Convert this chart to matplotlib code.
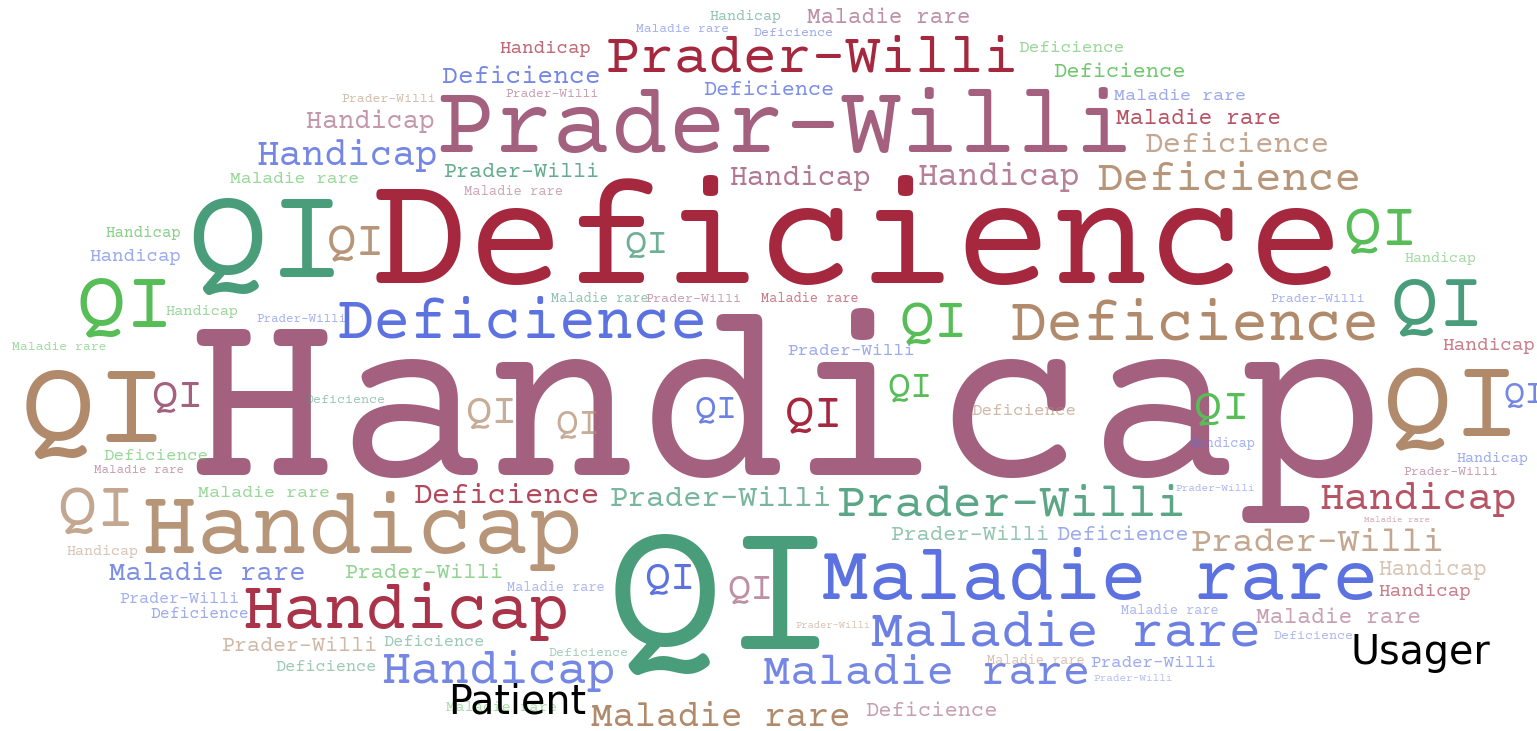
import matplotlib
matplotlib.use("Agg")
import matplotlib.pyplot as plt
from matplotlib import font_manager as fm

# Vocabulary of the cloud and the two labels laid on top.
terms = ["Handicap", "Deficience", "Prader-Willi", "Maladie rare", "QI"]
labels = ["Patient", "Usager"]

palette = {
    "red": "#A5283E",
    "mauve": "#A3607F",
    "blue": "#5C72E0",
    "teal": "#4A9D7B",
    "tan": "#B08A6B",
    "green": "#57BD57",
}

# Placed words: term index, then layout (left px, right px, baseline px), colour, alpha.
H, D, P, M, Q = range(5)
cloud = [
    (H, 710, 780, 20, "teal", .6),
    (M, 810, 968, 23, "mauve", .7),
    (M, 638, 728, 32, "blue", .55),
    (D, 755, 832, 36, "blue", .6),
    (H, 501, 590, 53, "red", .7),
    (P, 613, 1012, 72, "red", 1),
    (D, 1020, 1123, 52, "green", .6),
    (D, 1055, 1184, 77, "green", .85),
    (D, 445, 598, 83, "blue", .85),
    (P, 507, 598, 97, "mauve", .6),
    (P, 343, 435, 102, "tan", .55),
    (D, 705, 832, 95, "blue", .8),
    (P, 447, 1122, 152, "mauve", 1),
    (M, 1116, 1244, 100, "blue", .6),
    (M, 1119, 1279, 124, "red", .8),
    (H, 308, 433, 128, "mauve", .65),
    (D, 1148, 1327, 152, "tan", .75),
    (H, 259, 435, 165, "blue", .85),
    (P, 445, 597, 177, "teal", .85),
    (M, 232, 358, 183, "green", .6),
    (M, 466, 562, 195, "mauve", .55),
    (H, 732, 870, 185, "mauve", .85),
    (H, 920, 1078, 185, "mauve", .8),
    (D, 1100, 1357, 190, "tan", .9),
    (D, 385, 1330, 283, "red", 1),
    (Q, 190, 345, 277, "teal", 1),
    (Q, 328, 385, 255, "tan", .9),
    (Q, 625, 668, 253, "teal", .8),
    (H, 107, 180, 237, "green", .7),
    (H, 91, 180, 261, "blue", .6),
    (Q, 78, 173, 328, "green", 1),
    (H, 166, 237, 315, "green", .6),
    (P, 258, 345, 322, "blue", .55),
    (M, 13, 105, 350, "green", .55),
    (D, 342, 702, 338, "blue", 1),
    (M, 552, 647, 302, "teal", .6),
    (P, 647, 740, 302, "mauve", .6),
    (M, 762, 857, 302, "red", .6),
    (Q, 900, 967, 337, "green", 1),
    (D, 1015, 1374, 340, "tan", 1),
    (P, 1272, 1364, 302, "blue", .55),
    (P, 790, 913, 355, "blue", .6),
    (H, 1405, 1475, 262, "green", .55),
    (Q, 1392, 1484, 325, "teal", 1),
    (Q, 1344, 1417, 245, "green", 1),
    (H, 1444, 1534, 350, "red", .6),
    (Q, 1385, 1519, 435, "tan", 1),
    (Q, 1504, 1545, 403, "blue", .85),
    (H, 1190, 1254, 447, "blue", .55),
    (Q, 1195, 1249, 418, "green", 1),
    (H, 1457, 1527, 462, "blue", .6),
    (P, 1405, 1497, 475, "mauve", .6),
    (P, 1177, 1254, 491, "blue", .5),
    (H, 205, 1370, 475, "mauve", 1),
    (Q, 152, 203, 407, "mauve", 1),
    (Q, 23, 167, 442, "tan", 1),
    (D, 307, 385, 403, "teal", .55),
    (D, 105, 207, 460, "green", .6),
    (M, 95, 182, 473, "mauve", .6),
    (Q, 466, 517, 423, "tan", .7),
    (Q, 556, 600, 434, "tan", .7),
    (Q, 695, 737, 417, "blue", .9),
    (Q, 786, 843, 427, "red", 1),
    (Q, 888, 932, 397, "green", 1),
    (D, 973, 1075, 415, "tan", .6),
    (D, 417, 597, 503, "red", .85),
    (P, 613, 828, 506, "teal", .75),
    (P, 842, 1180, 516, "teal", .9),
    (H, 1322, 1514, 509, "red", .8),
    (M, 1365, 1429, 522, "mauve", .5),
    (H, 148, 577, 553, "tan", .9),
    (Q, 59, 135, 526, "tan", .75),
    (M, 200, 328, 497, "green", .6),
    (H, 67, 137, 555, "tan", .5),
    (M, 112, 303, 580, "blue", .8),
    (P, 121, 238, 603, "blue", .55),
    (D, 152, 247, 618, "blue", .6),
    (H, 247, 565, 628, "red", .95),
    (P, 347, 500, 578, "green", .65),
    (M, 508, 603, 591, "blue", .5),
    (P, 223, 375, 651, "tan", .6),
    (D, 277, 375, 671, "teal", .55),
    (D, 385, 483, 646, "teal", .55),
    (D, 550, 627, 656, "teal", .5),
    (H, 385, 613, 683, "blue", .85),
    (M, 447, 555, 711, "green", .5),
    (Q, 610, 835, 649, "teal", 1),
    (Q, 645, 695, 589, "blue", 1),
    (Q, 728, 773, 599, "mauve", .7),
    (P, 797, 870, 628, "tan", .5),
    (M, 830, 1370, 599, "blue", 1),
    (P, 893, 1047, 540, "teal", .6),
    (D, 1058, 1187, 540, "blue", .6),
    (P, 1194, 1440, 551, "tan", .75),
    (H, 1380, 1485, 575, "tan", .5),
    (H, 1380, 1470, 596, "red", .6),
    (M, 877, 1255, 646, "blue", .9),
    (M, 1122, 1217, 614, "blue", .5),
    (M, 1259, 1419, 623, "mauve", .6),
    (D, 1275, 1352, 639, "blue", .5),
    (M, 988, 1083, 664, "tan", .5),
    (P, 1092, 1214, 667, "blue", .6),
    (P, 1095, 1172, 681, "blue", .45),
    (M, 768, 1085, 684, "blue", .85),
    (M, 595, 847, 726, "tan", 1),
    (D, 867, 995, 716, "mauve", .6),
]

label_pos = [(448, 714), (1351, 664)]


def pick_font(cands):
    for name in cands:
        try:
            fm.findfont(fm.FontProperties(family=name), fallback_to_default=False)
            return name
        except ValueError:
            continue
    return "DejaVu Serif"


cloud_font = pick_font(["Special Elite", "Courier Prime", "Cutive Mono",
                        "Nimbus Mono PS", "FreeMono", "Courier"])

W, Hgt, DPI = 1537, 731, 100
fig = plt.figure(figsize=(W / DPI, Hgt / DPI), dpi=DPI)
ax = fig.add_axes([0, 0, 1, 1])
ax.set_xlim(0, W)
ax.set_ylim(Hgt, 0)
ax.axis("off")
renderer = fig.canvas.get_renderer()

for idx, x0, x1, base, col, alpha in cloud:
    word = terms[idx]
    t = ax.text((x0 + x1) / 2, base, word, ha="center", va="baseline",
                fontsize=20, family=cloud_font,
                color=palette[col], alpha=alpha)
    # scale the font so the word spans the same width as in the picture
    w = t.get_window_extent(renderer).width
    fs = 20 * (x1 - x0) / w * 1.03
    t.set_fontsize(fs)
    t.set_zorder(10 - fs / 100)  # small words sit on top of the big ones

for txt, (x, y) in zip(labels, label_pos):
    ax.text(x, y, txt, ha="left", va="baseline", fontsize=28.5,
            family="DejaVu Sans", color="black", zorder=20)

fig.savefig("out.png", dpi=DPI, facecolor="white")
